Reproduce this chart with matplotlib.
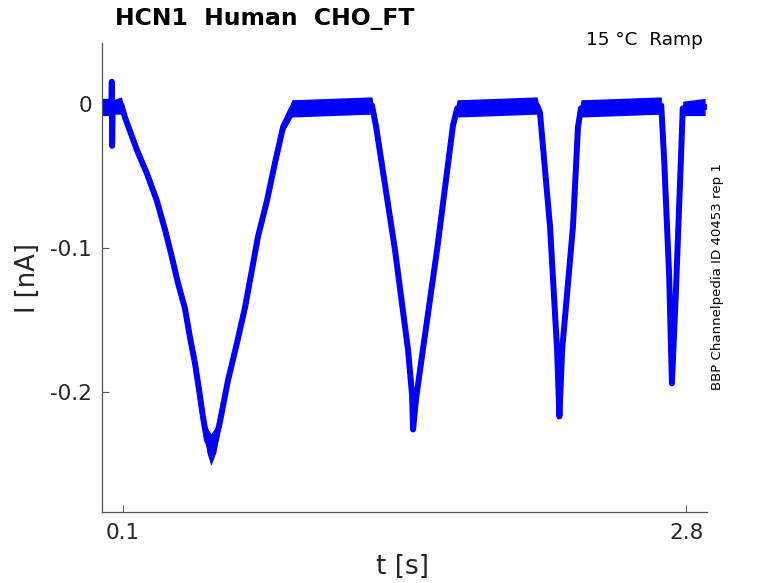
import numpy as np
import matplotlib
matplotlib.use('Agg')
import matplotlib.pyplot as plt

# current trace: time (s), current (nA), spread of the noise band (nA)
t_pts = [0.001, 0.030, 0.047, 0.0485, 0.0500, 0.053, 0.095,
         0.111, 0.169, 0.216, 0.264, 0.303, 0.336, 0.365, 0.399, 0.423, 0.447, 0.466, 0.485,
         0.504, 0.523, 0.547, 0.566, 0.605, 0.648, 0.687, 0.720, 0.749, 0.792, 0.830, 0.869,
         0.912, 1.100, 1.295,
         1.314, 1.405, 1.468, 1.487, 1.492, 1.506, 1.525, 1.607, 1.683, 1.703,
         1.900, 2.086,
         2.100, 2.148, 2.182, 2.193, 2.206, 2.258, 2.282, 2.296,
         2.490, 2.681,
         2.695, 2.719, 2.732, 2.751, 2.775, 2.784,
         2.891]
i_pts = [-0.002, -0.002, -0.002, 0.0155, -0.029, -0.002, -0.001,
         -0.009, -0.032, -0.048, -0.067, -0.087, -0.106, -0.124, -0.142, -0.162, -0.180, -0.198, -0.217,
         -0.233, -0.240, -0.233, -0.221, -0.192, -0.166, -0.141, -0.115, -0.092, -0.067, -0.041, -0.016,
         -0.003, -0.002, -0.001,
         -0.015, -0.101, -0.171, -0.202, -0.226, -0.205, -0.185, -0.101, -0.015, -0.003,
         -0.002, -0.001,
         -0.006, -0.085, -0.171, -0.217, -0.171, -0.085, -0.016, -0.003,
         -0.002, -0.001,
         -0.039, -0.120, -0.194, -0.131, -0.039, -0.003,
         -0.002]
spread = [0.006, 0.006, 0.005, 0.000, 0.000, 0.005, 0.006,
          0.004, 0.003, 0.003, 0.003, 0.003, 0.003, 0.003, 0.003, 0.003, 0.003, 0.004, 0.005,
          0.009, 0.011, 0.009, 0.006, 0.004, 0.003, 0.003, 0.003, 0.003, 0.003, 0.003, 0.004,
          0.006, 0.006, 0.006,
          0.002, 0.002, 0.002, 0.002, 0.000, 0.002, 0.002, 0.002, 0.003, 0.006,
          0.006, 0.006,
          0.002, 0.001, 0.001, 0.000, 0.001, 0.001, 0.002, 0.006,
          0.006, 0.006,
          0.001, 0.001, 0.000, 0.001, 0.001, 0.005,
          0.006]

x_ticks = [0.1, 2.8]
x_ticklabels = ['0.1', '2.8']
y_ticks = [0, -0.1, -0.2]
y_ticklabels = ['0', '-0.1', '-0.2']

plt.rcParams['axes.unicode_minus'] = False
fig = plt.figure(figsize=(7.78, 5.83), dpi=100)
ax = fig.add_axes([0.1307, 0.1218, 0.7780, 0.8044])

t = np.array(t_pts)
cur = np.array(i_pts)
sp = np.array(spread)
ax.fill_between(t, cur - sp, cur + sp, color='#0000ff', lw=0)
ax.plot(t, cur, color='#0000ff', lw=4.3, solid_joinstyle='round')

ax.set_xlim(0, 2.9)
ax.set_ylim(-0.2833, 0.0424)
ax.set_xticks(x_ticks)
ax.set_xticklabels(x_ticklabels)
ax.set_yticks(y_ticks)
ax.set_yticklabels(y_ticklabels)

for s in ['top', 'right']:
    ax.spines[s].set_visible(False)
for s in ['left', 'bottom']:
    ax.spines[s].set_color('#555555')
    ax.spines[s].set_linewidth(0.9)
ax.tick_params(direction='in', length=5, width=0.8, color='#555555',
               labelcolor='#262626', labelsize=15.5)
ax.tick_params(axis='x', pad=8)
ax.tick_params(axis='y', pad=7)

fig.text(403 / 778, 1 - 567 / 583, 't [s]', ha='center', va='center', fontsize=19, color='#262626')
fig.text(28 / 778, 1 - 278 / 583, 'I [nA]', ha='center', va='center', rotation=90,
         fontsize=18.5, color='#262626')

fig.text(115 / 778, 1 - 18 / 583, 'HCN1  Human  CHO_FT', ha='left', va='center',
         fontsize=16.9, fontweight='bold', color='black')
fig.text(703 / 778, 1 - 40 / 583, '15 °C  Ramp', ha='right', va='center', fontsize=13.3, color='black')
fig.text(717 / 778, 1 - 277 / 583, 'BBP Channelpedia ID 40453 rep 1', ha='center', va='center',
         rotation=90, fontsize=9.6, color='black')

fig.savefig('out.png', dpi=100)
